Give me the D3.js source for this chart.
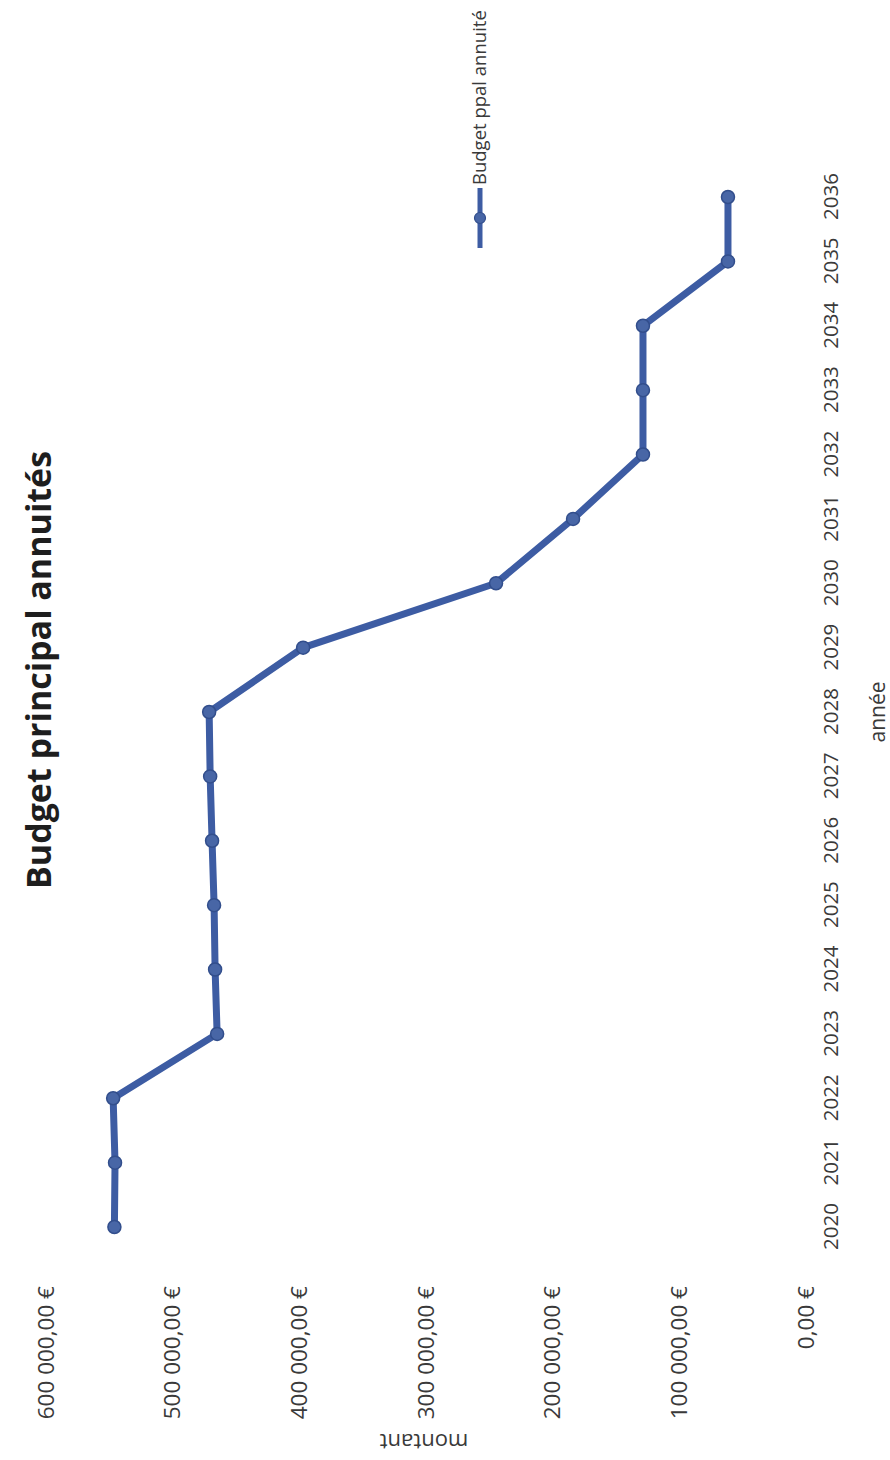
<!DOCTYPE html>
<html>
<head>
<meta charset="utf-8">
<script src="https://cdn.jsdelivr.net/npm/d3@7"></script>
<style>
  html, body { margin: 0; padding: 0; background: #fff; }
  svg { display: block; }
  text { font-family: "Open Sans", "Noto Sans", sans-serif; }
</style>
</head>
<body>
<script>
// Annual debt service of the main budget, per year
const years = [2020, 2021, 2022, 2023, 2024, 2025, 2026, 2027, 2028,
               2029, 2030, 2031, 2032, 2033, 2034, 2035, 2036];
const annuites = [546000, 545500, 547000, 464900, 466500, 467300, 468900, 470400, 471200,
                  397000, 244700, 183900, 128700, 128700, 128700, 61600, 61600];
const valueTicks = [0, 100000, 200000, 300000, 400000, 500000, 600000];
const chartTitle = "Budget principal annuités";
const seriesName = "Budget ppal annuité";
const xTitle = "année";
const yTitle = "montant";

const W = 890, H = 1460;
// The page is printed in landscape and turned a quarter turn:
// the chart is laid out in its own frame and rotated.
const svg = d3.select("body").append("svg")
  .attr("width", W).attr("height", H);

const g = svg.append("g")
  .attr("transform", `translate(0,${H}) rotate(-90)`);

const x = d3.scalePoint().domain(years).range([233, 1263]);
const y = d3.scaleLinear().domain([0, 600000]).range([806, 46]);

const blue = "#3d5ca3";
const textCol = "#3a3a3a";

const fmt = v => {
  const s = d3.format(",.2f")(v);
  return s.replace(/,/g, " ").replace(".", ",") + " €";
};

// Title
g.append("text")
  .attr("x", 790).attr("y", 51)
  .attr("text-anchor", "middle")
  .attr("font-size", 34).attr("font-weight", 700)
  .attr("fill", "#1e1e1e")
  .text(chartTitle);

// Value axis labels (no axis line, no gridlines)
const yAxis = d3.axisLeft(y).tickValues(valueTicks).tickFormat(fmt).tickSize(0).tickPadding(0);
const yg = g.append("g").attr("transform", "translate(174,0)").call(yAxis);
yg.select(".domain").remove();
yg.selectAll("text")
  .attr("font-size", 22.5)
  .attr("fill", textCol)
  .attr("font-family", "'Open Sans', sans-serif");

// Category axis labels
const xAxis = d3.axisBottom(x).tickSize(0).tickPadding(0).tickFormat(d3.format("d"));
const xg = g.append("g").attr("transform", "translate(0,823)").call(xAxis);
xg.select(".domain").remove();
xg.selectAll("text")
  .attr("font-size", 20.5)
  .attr("fill", textCol)
  .attr("dy", "0.72em")
  .attr("font-family", "'Open Sans', sans-serif");

// Axis titles
g.append("text")
  .attr("x", 748).attr("y", 885)
  .attr("text-anchor", "middle")
  .attr("font-size", 21).attr("fill", textCol)
  .text(xTitle);

g.append("text")
  .attr("transform", `translate(17,${(y(0) + y(600000)) / 2 - 2}) rotate(-90)`)
  .attr("text-anchor", "middle")
  .attr("dominant-baseline", "central")
  .attr("font-size", 22).attr("fill", textCol)
  .text(yTitle);

// Series line
const line = d3.line()
  .x((d, i) => x(years[i]))
  .y(d => y(d));

g.append("path")
  .datum(annuites)
  .attr("d", line)
  .attr("fill", "none")
  .attr("stroke", blue)
  .attr("stroke-width", 7)
  .attr("stroke-linejoin", "round");

g.selectAll("circle.pt")
  .data(annuites)
  .join("circle")
  .attr("class", "pt")
  .attr("cx", (d, i) => x(years[i]))
  .attr("cy", d => y(d))
  .attr("r", 6.5)
  .attr("fill", "#4866a6")
  .attr("stroke", "#324e8c")
  .attr("stroke-width", 1.5);

// Legend
const lg = g.append("g").attr("transform", "translate(1212,480)");
lg.append("line")
  .attr("x1", 0).attr("x2", 60).attr("y1", 0).attr("y2", 0)
  .attr("stroke", blue).attr("stroke-width", 5);
lg.append("circle")
  .attr("cx", 30).attr("cy", 0).attr("r", 5.5)
  .attr("fill", "#4866a6").attr("stroke", "#324e8c").attr("stroke-width", 1.2);
lg.append("text")
  .attr("x", 63).attr("y", 0).attr("dy", "0.35em")
  .attr("font-size", 18.5).attr("fill", textCol)
  .text(seriesName);
</script>
</body>
</html>
